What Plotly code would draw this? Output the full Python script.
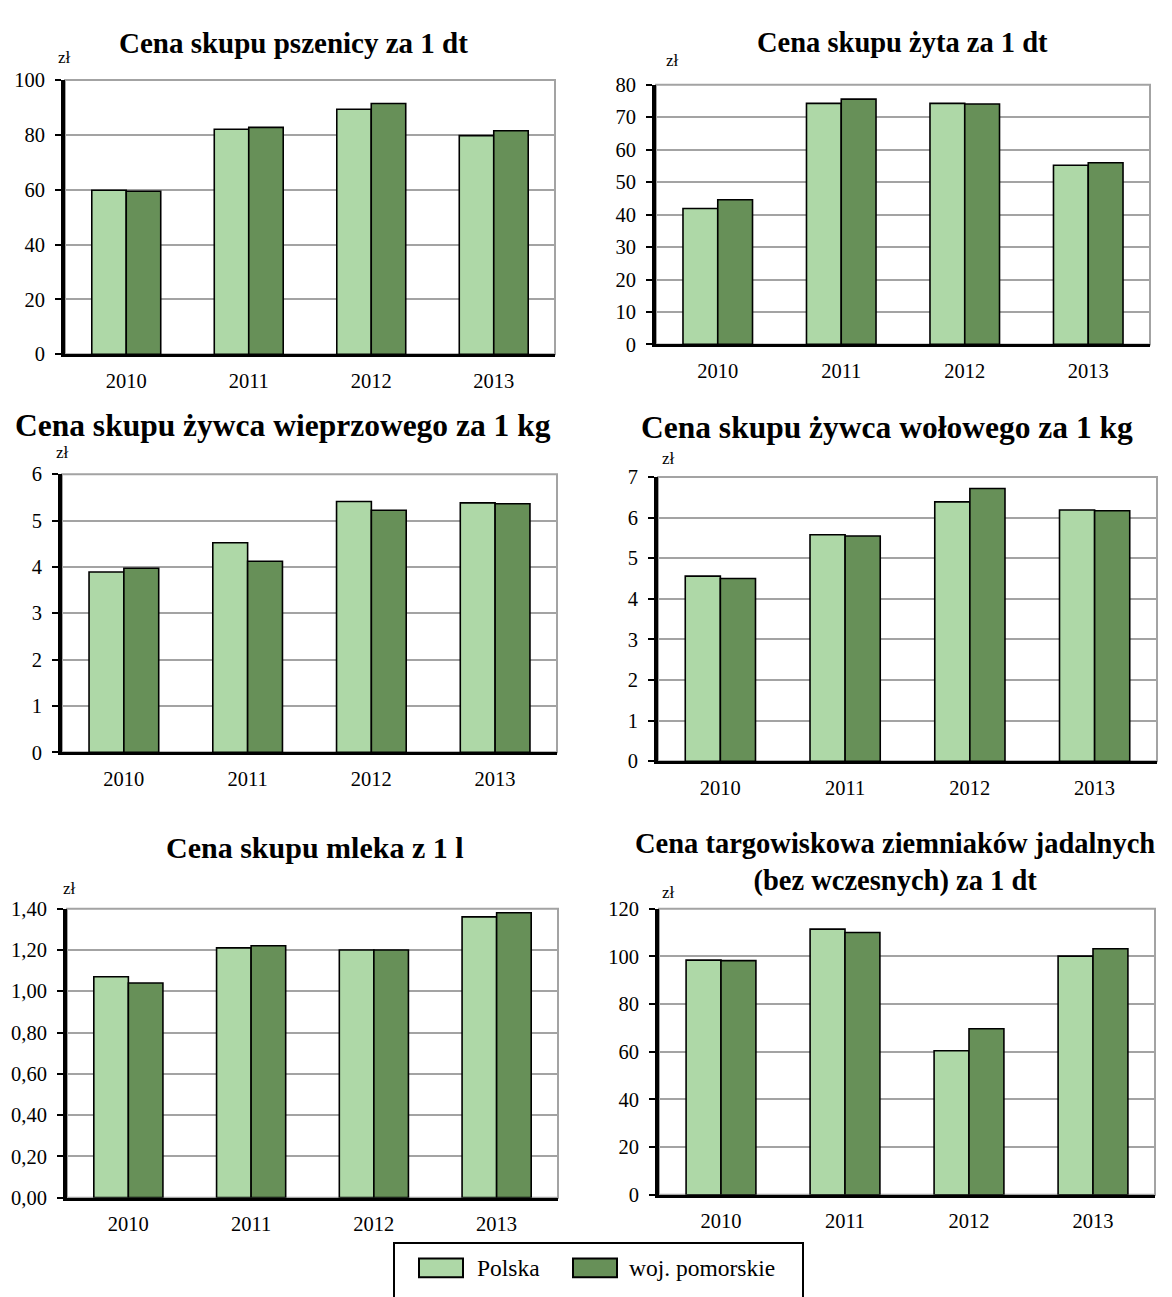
import plotly.graph_objects as go

# page size (pixels); the page body adds an 8 px margin
W, H = 1172, 1297
OFF = 8

years = ['2010', '2011', '2012', '2013']
series_names = ['Polska', 'woj. pomorskie']

# values (zł)
pszenica_polska = [59.8, 82.0, 89.3, 79.7]
pszenica_pomorskie = [59.4, 82.7, 91.4, 81.5]
zyto_polska = [41.9, 74.3, 74.3, 55.2]
zyto_pomorskie = [44.6, 75.6, 74.1, 56.0]
wieprz_polska = [3.89, 4.52, 5.41, 5.38]
wieprz_pomorskie = [3.97, 4.12, 5.22, 5.36]
wolowy_polska = [4.56, 5.58, 6.39, 6.19]
wolowy_pomorskie = [4.50, 5.55, 6.72, 6.17]
mleko_polska = [1.07, 1.21, 1.20, 1.36]
mleko_pomorskie = [1.04, 1.22, 1.20, 1.38]
ziemniaki_polska = [98.4, 111.4, 60.4, 100.1]
ziemniaki_pomorskie = [98.2, 110.0, 69.6, 103.2]

titles = [
    'Cena skupu pszenicy za 1 dt',
    'Cena skupu żyta za 1 dt',
    'Cena skupu żywca wieprzowego za 1 kg',
    'Cena skupu żywca wołowego za 1 kg',
    'Cena skupu mleka z 1 l',
    'Cena targowiskowa ziemniaków jadalnych<br>(bez wczesnych) za 1 dt',
]
y_max = [100, 80, 6, 7, 1.4, 120]
y_step = [20, 10, 1, 1, 0.2, 20]
y_fmt = ['d', 'd', 'd', 'd', '.2f', 'd']

panels = [
    (pszenica_polska, pszenica_pomorskie),
    (zyto_polska, zyto_pomorskie),
    (wieprz_polska, wieprz_pomorskie),
    (wolowy_polska, wolowy_pomorskie),
    (mleko_polska, mleko_pomorskie),
    (ziemniaki_polska, ziemniaki_pomorskie),
]

# plot area boxes in pixels: x0, x1, y_top, y_bottom
boxes = [
    (65, 555, 70, 349),
    (656, 1150, 75, 339),
    (62, 557, 471, 754),
    (658, 1157, 474, 763),
    (67, 558, 913, 1207),
    (659, 1155, 913, 1204),
]
# title centre (x, y), font size, and "zł" position
title_pos = [(293, 32), (902, 32), (283, 422), (887, 424), (315, 851), (895, 866)]
title_size = [29, 28.5, 31.5, 31.5, 30, 28.5]
zl_pos = [(64, 47), (673, 50), (62, 449), (668, 455), (69, 893), (668, 897)]

colors = ['#AED8A7', '#679058']
FONT = 'Liberation Serif'


def px(x):
    return (x - OFF) / W


def py(y):
    return 1 - (y - OFF) / H


fig = go.Figure()
shapes = []
annotations = []

for i, (vals, box) in enumerate(zip(panels, boxes)):
    n = '' if i == 0 else str(i + 1)
    for name, v, c in zip(series_names, vals, colors):
        fig.add_trace(go.Bar(
            x=years, y=v, name=name, showlegend=False,
            xaxis='x' + n, yaxis='y' + n,
            marker=dict(color=c, line=dict(color='black', width=1.6)),
        ))
    x0, x1, yt, yb = box
    fig.layout['xaxis' + n] = dict(
        domain=[px(x0), px(x1)], anchor='y' + n, type='category',
        range=[-0.5, 3.5], showline=True, linecolor='black', linewidth=3,
        ticks='', showgrid=False, zeroline=False, ticklabelstandoff=6,
        tickfont=dict(family=FONT, size=20.5, color='black'),
    )
    fig.layout['yaxis' + n] = dict(
        domain=[py(yb), py(yt)], anchor='x' + n, range=[0, y_max[i]],
        tick0=0, dtick=y_step[i], tickformat=y_fmt[i],
        showgrid=True, gridcolor='#A3A3A3', gridwidth=1.5, zeroline=False,
        showline=True, linecolor='black', linewidth=4,
        ticks='outside', ticklen=6, tickwidth=2, tickcolor='black',
        ticklabelstandoff=6,
        tickfont=dict(family=FONT, size=20.5, color='black'),
    )
    # grey frame on top and right side
    shapes.append(dict(type='rect', xref='x' + n + ' domain', yref='y' + n + ' domain',
                       x0=0, x1=1, y0=0, y1=1, layer='below',
                       line=dict(color='#A3A3A3', width=2)))
    tx, ty = title_pos[i]
    annotations.append(dict(text='<b>' + titles[i] + '</b>', xref='paper', yref='paper',
                            x=px(tx), y=py(ty), xanchor='center', yanchor='middle',
                            showarrow=False, align='center',
                            font=dict(family=FONT, size=title_size[i], color='black')))
    zx, zy = zl_pos[i]
    annotations.append(dict(text='zł', xref='paper', yref='paper',
                            x=px(zx), y=py(zy), xanchor='center', yanchor='middle',
                            showarrow=False, font=dict(family=FONT, size=17, color='black')))

# legend box, drawn by hand to get the wide swatches
shapes.append(dict(type='rect', xref='paper', yref='paper', x0=px(394), x1=px(803),
                   y0=py(1320), y1=py(1253), line=dict(color='black', width=2),
                   fillcolor='white'))
legend_items = [(419, 463, 475), (573, 617, 627)]
for (sx0, sx1, tx), name, c in zip(legend_items, series_names, colors):
    shapes.append(dict(type='rect', xref='paper', yref='paper', x0=px(sx0), x1=px(sx1),
                       y0=py(1288), y1=py(1269), fillcolor=c,
                       line=dict(color='black', width=2)))
    annotations.append(dict(text=name, xref='paper', yref='paper', x=px(tx), y=py(1279),
                            xanchor='left', yanchor='middle', showarrow=False,
                            font=dict(family=FONT, size=23.5, color='black')))

fig.update_layout(
    width=W, height=H, margin=dict(l=0, r=0, t=0, b=0),
    paper_bgcolor='white', plot_bgcolor='white',
    barmode='group', bargap=0.437, bargroupgap=0,
    separators=', ', showlegend=False,
    shapes=shapes, annotations=annotations,
    font=dict(family=FONT, color='black'),
)

fig.write_html("out.html")
